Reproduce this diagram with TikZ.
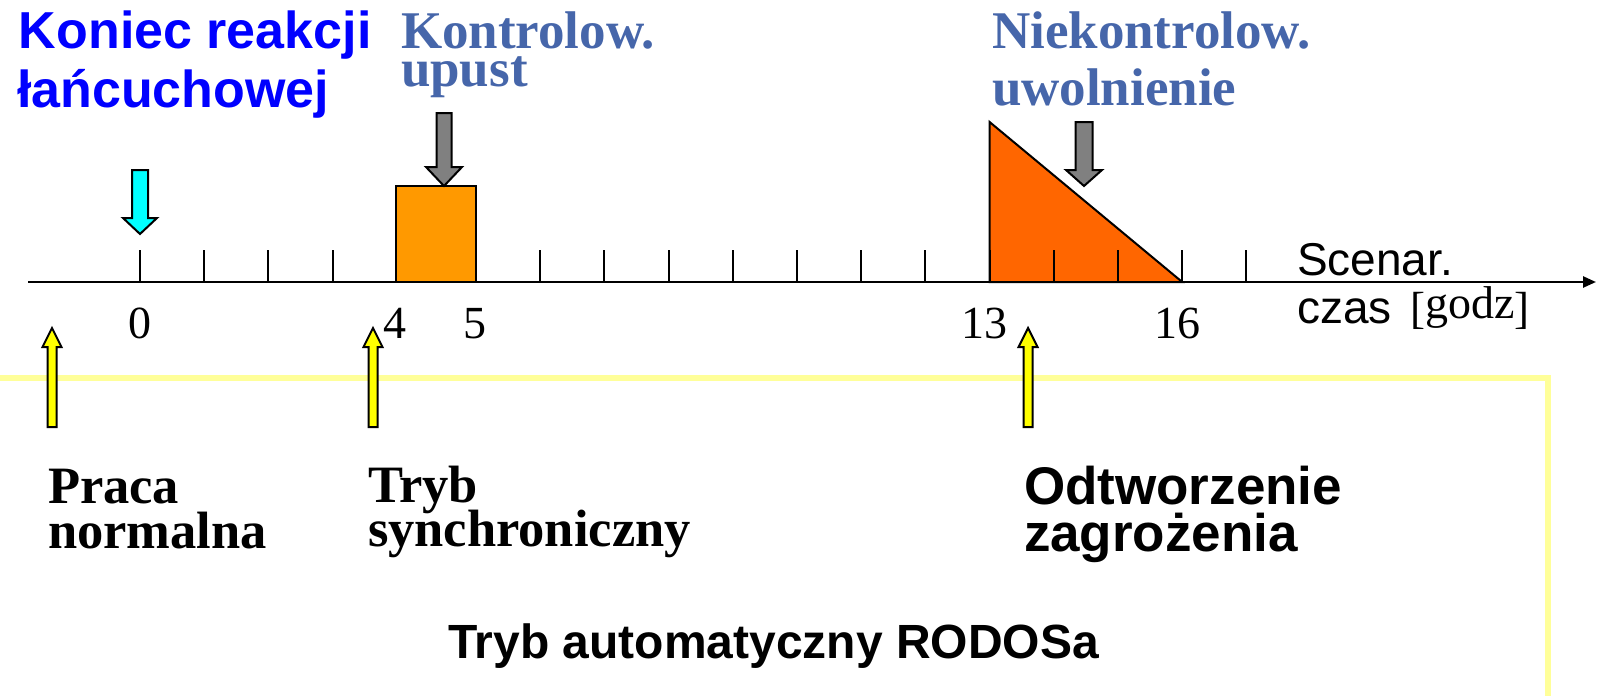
\documentclass[tikz,border=0pt]{standalone}
\usepackage{fontspec}
\setmainfont{Liberation Serif}
\setsansfont{Liberation Sans}
\usetikzlibrary{arrows.meta}

\definecolor{reactblue}{RGB}{0,0,255}
\definecolor{slateblue}{RGB}{70,102,170}
\definecolor{boxorange}{RGB}{255,153,0}
\definecolor{triorange}{RGB}{255,102,0}
\definecolor{paleyellow}{RGB}{255,255,153}
\definecolor{arrowgray}{RGB}{128,128,128}
\definecolor{arrowcyan}{RGB}{0,255,255}
\definecolor{arrowyellow}{RGB}{255,255,0}

% font size helper
\newcommand\fsz[1]{\fontsize{#1}{#1}\selectfont}

% block arrow: style, x centre, y tail, y head base, y tip, shaft half width, head half width
\newcommand\BlockArrow[7]{%
  \draw[#1] ({#2-#6},#3) -- ({#2+#6},#3) -- ({#2+#6},#4) -- ({#2+#7},#4)
    -- (#2,#5) -- ({#2-#7},#4) -- ({#2-#6},#4) -- cycle;}

\tikzset{
  lbl/.style={inner sep=0pt, outer sep=0pt, anchor=base west},
  num/.style={inner sep=0pt, outer sep=0pt, anchor=base, font=\fsz{46}},
  headline/.style={lbl, text=reactblue, font=\sffamily\bfseries\fsz{52}},
  eventlbl/.style={lbl, text=slateblue, font=\rmfamily\bfseries\fsz{53}},
  modelbl/.style={lbl, text=black, font=\rmfamily\bfseries\fsz{52.5}},
  threatlbl/.style={lbl, text=black, font=\sffamily\bfseries\fsz{53}},
  axislbl/.style={lbl, text=black, font=\sffamily\fsz{46}},
  tick/.style={line width=2pt},
  arrowline/.style={line width=2pt, draw=black, line join=miter},
}

\begin{document}
\begin{tikzpicture}[x=1pt, y=-1pt]
\useasboundingbox (0,0) rectangle (1601,696);

% frame of the automatic mode
\draw[paleyellow, line width=6pt] (-10,378) -- (1548,378) -- (1548,710);

% release shapes
\draw[line width=2pt, fill=boxorange] (396,186) rectangle (476,282);
\draw[line width=2pt, fill=triorange, line join=miter] (989.6,122) -- (989.6,282) -- (1182.2,282) -- cycle;

% time axis
\coordinate (axstart) at (28,282);
\coordinate (axend) at (1596,282);
\draw[line width=2.5pt, -{Triangle[length=13pt,width=11pt]}] (axstart) -- (axend);

% ticks
\foreach \x in {140,204.2,268.4,332.6,396,476,540.2,604.4,668.6,732.8,797,861.2,925.4,989.6,1053.8,1118,1182.2,1246.4}
  \draw[tick] (\x,250) -- (\x,282);

% tick labels
\node[num] (t0) at (140,338) {0};
\node[num] (t4) at (395,338) {4};
\node[num] (t5) at (475,338) {5};
\node[num] (t13) at (984,338) {13};
\node[num] (t16) at (1177,338) {16};

% axis caption
\node[axislbl] (scenar) at (1297,275) {Scenar.};
\node[axislbl] (czas) at (1297,323) {czas};
\node[lbl, font=\rmfamily] (godz) at (1410,323) {{\fsz{45}[}\raisebox{5pt}{\fsz{46}godz}{\fsz{45}]}};

% event arrows
\BlockArrow{arrowline, fill=arrowcyan}{140}{170}{218}{234}{8}{17}
\BlockArrow{arrowline, fill=arrowgray}{444}{113}{167}{186}{7.5}{18}
\BlockArrow{arrowline, fill=arrowgray}{1084}{122}{170}{186}{8.5}{18}

% mode arrows
\BlockArrow{arrowline, fill=arrowyellow}{52}{427}{347}{328}{4.5}{9.5}
\BlockArrow{arrowline, fill=arrowyellow}{373}{427}{347}{328}{4.5}{9.5}
\BlockArrow{arrowline, fill=arrowyellow}{1028}{427}{347}{328}{4.5}{9.5}

% event titles
\node[headline] (koniec1) at (19,48) {Koniec reakcji};
\node[headline] (koniec2) at (17,107) {łańcuchowej};
\node[eventlbl] (kontr1) at (401,48) {Kontrolow.};
\node[eventlbl] (kontr2) at (401,86) {upust};
\node[eventlbl] (niek1) at (992,48) {Niekontrolow.};
\node[eventlbl] (niek2) at (992,105) {uwolnienie};

% mode titles
\node[modelbl] (praca1) at (48,503) {Praca};
\node[modelbl] (praca2) at (48,548) {normalna};
\node[modelbl] (tryb1) at (368,502) {Tryb};
\node[modelbl] (tryb2) at (368,546) {synchroniczny};
\node[threatlbl] (odtw1) at (1024,504) {Odtworzenie};
\node[threatlbl] (odtw2) at (1024,551) {zagrożenia};
\node[lbl, font=\sffamily\bfseries\fsz{48}] (auto) at (448,658) {Tryb automatyczny RODOSa};
\end{tikzpicture}
\end{document}
